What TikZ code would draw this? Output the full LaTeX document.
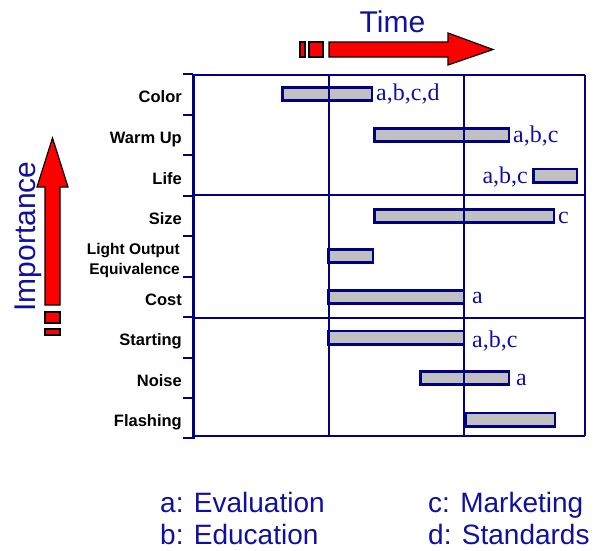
\documentclass[tikz,border=0pt]{standalone}
\usepackage{fontspec}
\setmainfont{Liberation Serif}
\setsansfont{Liberation Sans}
\definecolor{navy}{RGB}{0,0,128}
\definecolor{txtblue}{RGB}{16,16,160}
\definecolor{bargray}{RGB}{192,192,192}
\begin{document}
\begin{tikzpicture}[x=1pt,y=-1pt,
  bar/.style={draw=navy, fill=bargray, line width=2.8pt, rectangle, inner sep=0pt, minimum height=13.2pt, anchor=west},
  blab/.style={font=\fontsize{24}{24}\selectfont, text=txtblue, inner sep=0pt, anchor=base west},
  rowlab/.style={font=\sffamily\bfseries\fontsize{16.5}{20}\selectfont, anchor=base east, inner sep=0pt, align=right},
  rowlabsmall/.style={rowlab, font=\sffamily\bfseries\fontsize{15.5}{20}\selectfont},
  axisline/.style={draw=navy, line width=3pt},
  tickline/.style={draw=navy, line width=2pt},
  gridline/.style={draw=navy, line width=2.5pt},
  divline/.style={draw=navy, line width=1.2pt},
  redarrow/.style={fill=red, draw=black, line width=1.2pt, line join=miter},
  bigtext/.style={font=\sffamily\fontsize{30}{30}\selectfont, text=txtblue, inner sep=0pt},
  legend/.style={font=\sffamily\fontsize{28}{28}\selectfont, text=txtblue, inner sep=0pt, anchor=base west}]
\useasboundingbox (0,0) rectangle (600,550);

% frame corners
\coordinate (tl) at (193,75);
\coordinate (tr) at (585,75);
\coordinate (bl) at (193,436);
\coordinate (br) at (585,436);

% bars
\node[bar, minimum width=89.2pt]  (color) at (281.4,94) {};
\node[bar, minimum width=134.2pt] (warm)  at (373.4,135) {};
\node[bar, minimum width=43.2pt]  (life)  at (532.4,175.5) {};
\node[bar, minimum width=179.2pt] (size)  at (373.4,216) {};
\node[bar, minimum width=44.2pt]  (light) at (327.4,256) {};
\node[bar, minimum width=135.2pt] (cost)  at (327.4,297) {};
\node[bar, minimum width=135.2pt] (start) at (327.4,337.5) {};
\node[bar, minimum width=88.2pt]  (noise) at (419.4,378) {};
\node[bar, minimum width=89.2pt]  (flash) at (464.4,419.5) {};

% frame
\draw[divline] (tl) -- (tr);
\draw[draw=navy, line width=2.5pt] (tr) -- (br);
\draw[draw=navy, line width=2pt] (bl) -- (br);
\draw[divline] (193,195) -- (585,195);
\draw[divline] (193,318) -- (585,318);
\draw[gridline] (329,75) -- (329,436);
\draw[gridline] (464,75) -- (464,436);
\draw[axisline] (193,73.5) -- (193,438.5);
\foreach \y in {74,114.5,155,195.5,236,276.5,317,357.5,398,438}
  \draw[tickline] (183,\y) -- (193,\y);

% bar labels
\node[blab] (lcolor) at (376,100) {a,b,c,d};
\node[blab] (lwarm)  at (513,142) {a,b,c};
\node[blab, anchor=base east] (llife) at (528,183) {a,b,c};
\node[blab] (lsize)  at (558,223) {c};
\node[blab] (lcost)  at (472,303) {a};
\node[blab] (lstart) at (472,347) {a,b,c};
\node[blab] (lnoise) at (516,385) {a};

% row labels
\node[rowlab] (rcolor) at (182,102) {Color};
\node[rowlab] (rwarm)  at (182,143) {Warm Up};
\node[rowlab] (rlife)  at (182,184) {Life};
\node[rowlab] (rsize)  at (182,224) {Size};
\node[rowlabsmall] (rlight1) at (180,254) {Light Output};
\node[rowlabsmall] (rlight2) at (180,274) {Equivalence};
\node[rowlab] (rcost)  at (182,305) {Cost};
\node[rowlab] (rstart) at (182,345) {Starting};
\node[rowlab] (rnoise) at (182,386) {Noise};
\node[rowlab] (rflash) at (182,426) {Flashing};

% Time arrow
\node[bigtext, anchor=base] (time) at (392.5,32) {Time};
\draw[redarrow] (300,42) rectangle (305,57);
\draw[redarrow] (309,42) rectangle (323,57);
\draw[redarrow] (329,42) -- (448,42) -- (448,33) -- (493,49.5) -- (448,65) -- (448,57) -- (329,57) -- cycle;

% Importance arrow
\node[bigtext, rotate=90, anchor=base] (imp) at (35,236.5) {Importance};
\draw[redarrow] (45,312) rectangle (60,323);
\draw[redarrow] (45,329) rectangle (60,335);
\draw[redarrow] (45,305) -- (45,187) -- (37,187) -- (52.5,138) -- (68,187) -- (60,187) -- (60,305) -- cycle;

% legend
\node[legend] (la) at (160,512) {a: Evaluation};
\node[legend] (lb) at (160,544) {b: Education};
\node[legend] (lc) at (428,512) {c: Marketing};
\node[legend] (ld) at (428,544) {d: Standards};
\end{tikzpicture}
\end{document}
